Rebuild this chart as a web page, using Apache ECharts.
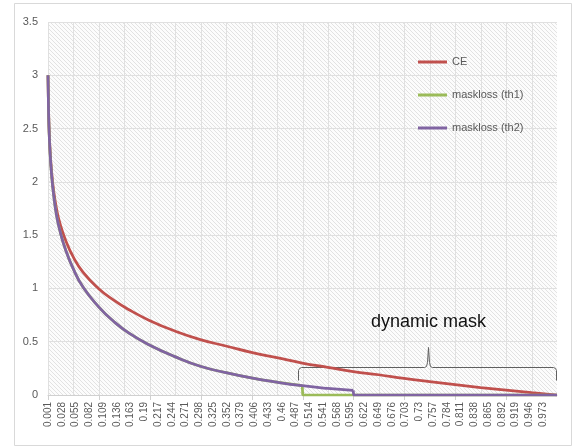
<!DOCTYPE html>
<html>
<head>
<meta charset="utf-8">
<script src="https://cdn.jsdelivr.net/npm/echarts@6/dist/echarts.min.js"></script>
<style>
html,body{margin:0;padding:0;background:#fff;}
#lossChart{width:579px;height:448px;}
</style>
</head>
<body>
<div id="lossChart"></div>
<script>
var curveX   = [0.001,0.002,0.003,0.005,0.008,0.012,0.018,0.025,0.035,0.05,0.07,0.1,0.13,0.16,0.2,0.25,0.3,0.35,0.4,0.45,0.5,0.55,0.6,0.65,0.7,0.75,0.8,0.85,0.9,0.95,1];
var ceVals   = [3.00,2.70,2.52,2.30,2.10,1.92,1.74,1.60,1.46,1.30,1.15,1.00,0.89,0.80,0.70,0.60,0.52,0.46,0.40,0.35,0.30,0.26,0.22,0.19,0.155,0.125,0.097,0.07,0.046,0.022,0.0];
var maskVals = [3.00,2.69,2.50,2.28,2.07,1.88,1.68,1.53,1.37,1.19,1.01,0.83,0.69,0.58,0.47,0.36,0.27,0.21,0.16,0.12,0.087,0.062,0.043];
// where each mask loss is cut to zero
var th1CutX = [0.5, 0.501, 1];
var th1CutY = [0.087, 0, 0];
var th2CutX = [0.6, 0.601, 1];
var th2CutY = [0.043, 0, 0];
var seriesNames = ['CE', 'maskloss (th1)', 'maskloss (th2)'];

// category axis 0.001 ... 1, step 0.001 (labels shown every 27th)
var xCats = [];
for (var i = 1; i <= 1000; i++) {
	xCats.push(String(i / 1000));
}

function pairs(xs, ys, upTo){
	var out = [];
	for (var k = 0; k < xs.length && k < ys.length; k++) {
		if (upTo != null && xs[k] > upTo) break;
		out.push([String(xs[k]), ys[k]]);
	}
	return out;
}

// hatched plot background
var hatch = document.createElement('canvas');
hatch.width = 4; hatch.height = 4;
var hctx = hatch.getContext('2d');
hctx.fillStyle = '#fcfcfc';
hctx.fillRect(0,0,4,4);
hctx.fillStyle = '#e2e2e2';
for (var h = 0; h < 4; h++) { hctx.fillRect(h,h,1,1); }

var myChart = echarts.init(document.getElementById('lossChart'));
var txtFont = 'Liberation Sans';
var colors = ['#C0504D', '#9BBB59', '#8064A2'];

function lineSeries(idx, data, smooth){
	return {
		name: seriesNames[idx], type: 'line', symbol: 'none',
		smooth: smooth,
		lineStyle: {color: colors[idx], width: 2.75},
		itemStyle: {color: colors[idx]},
		data: data
	};
}

var option = {
	animation: false,
	backgroundColor: '#fff',
	grid: {
		left: 48, right: 22, top: 22, bottom: 53,
		show: true,
		borderWidth: 0,
		backgroundColor: {image: hatch, repeat: 'repeat'}
	},
	legend: {
		data: seriesNames,
		orient: 'vertical',
		left: 413,
		top: 50,
		itemWidth: 29,
		itemHeight: 3,
		itemGap: 19,
		icon: 'rect',
		textStyle: {color: '#595959', fontSize: 11, fontFamily: txtFont, lineHeight: 14}
	},
	xAxis: {
		type: 'category',
		data: xCats,
		boundaryGap: false,
		axisLine: {lineStyle: {color: '#d0d0d0', width: 1}},
		axisTick: {
			length: 5,
			lineStyle: {color: '#d0d0d0'},
			interval: function(idx){ return idx % 100 === 0; }
		},
		splitLine: {
			show: true,
			lineStyle: {color: '#e0e0e0', width: 1},
			interval: function(idx){ return idx % 50 === 0; }
		},
		axisLabel: {
			rotate: 90,
			margin: 7,
			color: '#595959',
			fontSize: 10,
			fontFamily: txtFont,
			interval: function(idx){ return idx % 27 === 0 && idx < 990; }
		}
	},
	yAxis: {
		type: 'value',
		min: 0,
		max: 3.5,
		interval: 0.5,
		axisLine: {show: false},
		axisTick: {show: false},
		splitLine: {lineStyle: {color: '#e0e0e0', width: 1}},
		axisLabel: {color: '#595959', fontSize: 11, fontFamily: txtFont, margin: 10}
	},
	series: [
		lineSeries(0, pairs(curveX, ceVals), 0.5),
		lineSeries(1, pairs(curveX, maskVals, 0.5), 0.5),
		lineSeries(1, pairs(th1CutX, th1CutY), false),
		lineSeries(2, pairs(curveX, maskVals, 0.6), 0.5),
		lineSeries(2, pairs(th2CutX, th2CutY), false)
	]
};
myChart.setOption(option);

// annotation: brace over the "dynamic mask" range, plus chart border
var pL = myChart.convertToPixel({gridIndex: 0}, [490, 0.263]);
var pR = myChart.convertToPixel({gridIndex: 0}, [999, 0.263]);
var yH = Math.round(pL[1]) + 0.5, xl = Math.round(pL[0]) + 0.5, xr = Math.round(pR[0]) - 0.5;
var xm = Math.round((xl + xr) / 2) + 0.5;
var bracePts = [
	[xl, yH + 13], [xl, yH + 3], [xl + 1, yH + 1], [xl + 3, yH],
	[xm - 4, yH], [xm - 2, yH - 1], [xm - 1, yH - 5], [xm, yH - 20],
	[xm + 1, yH - 5], [xm + 2, yH - 1], [xm + 4, yH],
	[xr - 3, yH], [xr - 1, yH + 1], [xr, yH + 3], [xr, yH + 13]
];
var pT = myChart.convertToPixel({gridIndex: 0}, [0, 0.685]);

myChart.setOption({
	graphic: [
		{
			type: 'rect', silent: true,
			shape: {x: 14.5, y: 3.5, width: 557, height: 442},
			style: {fill: 'none', stroke: '#d9d9d9', lineWidth: 1}
		},
		{
			type: 'polyline', silent: true,
			shape: {points: bracePts},
			style: {fill: 'none', stroke: '#5f5f5f', lineWidth: 1}
		},
		{
			type: 'text', silent: true,
			x: xm, y: pT[1],
			style: {text: 'dynamic mask', fill: '#111', font: '18px "Liberation Sans"', align: 'center', verticalAlign: 'middle'}
		}
	]
});
</script>
</body>
</html>
